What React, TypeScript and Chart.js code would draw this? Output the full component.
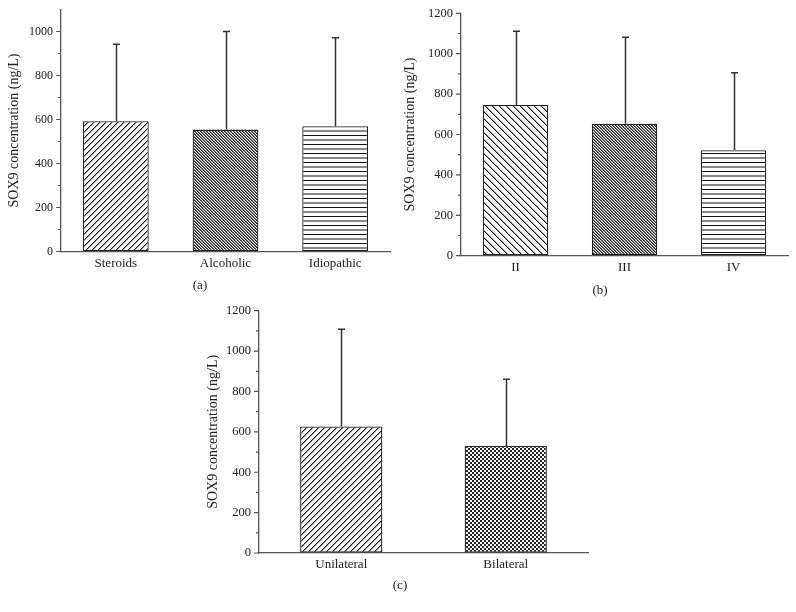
import React, { useEffect, useRef } from 'react';
import { Chart, registerables } from 'chart.js';
Chart.register(...registerables);

// ---------- data ----------
const categoriesA = ['Steroids', 'Alcoholic', 'Idiopathic'];
const meansA = [592, 554, 569];
const upperA = [942, 1000, 972];
const ticksA = [0, 200, 400, 600, 800, 1000];

const categoriesB = ['II', 'III', 'IV'];
const meansB = [746, 653, 522];
const upperB = [1111, 1081, 906];
const ticksB = [0, 200, 400, 600, 800, 1000, 1200];

const categoriesC = ['Unilateral', 'Bilateral'];
const meansC = [627, 530];
const upperC = [1108, 860];
const ticksC = [0, 200, 400, 600, 800, 1000, 1200];

const yTitle = 'SOX9 concentration (ng/L)';

const FONT = '"Liberation Serif", "Times New Roman", serif';
const AXIS = '#555';
const TEXT = '#222';

// ---------- patterns ----------
function makePattern(kind: string): CanvasPattern | string {
  const c = document.createElement('canvas');
  let w = 6, h = 6;
  if (kind === 'slash') { w = 6; h = 6; }
  if (kind === 'back') { w = 7; h = 7; }
  if (kind === 'dense') { w = 3; h = 3; }
  if (kind === 'horiz') { w = 4; h = 9; }
  if (kind === 'check') { w = 4; h = 4; }
  c.width = w; c.height = h;
  const g = c.getContext('2d')!;
  g.fillStyle = '#fff';
  g.fillRect(0, 0, w, h);
  const px = (x: number, y: number, col: string) => { g.fillStyle = col; g.fillRect(((x % w) + w) % w, ((y % h) + h) % h, 1, 1); };
  if (kind === 'slash') {
    for (let y = 0; y < h; y++) { px(w - 1 - y, y, '#111'); px(w - y, y, '#9a9a9a'); }
  } else if (kind === 'back') {
    for (let y = 0; y < h; y++) { px(y, y, '#111'); px(y + 1, y, '#9a9a9a'); }
  } else if (kind === 'dense') {
    for (let y = 0; y < h; y++) { px(y, y, '#222'); px(y + 1, y, '#777'); }
  } else if (kind === 'horiz') {
    for (let x = 0; x < w; x++) { px(x, 0, '#111'); px(x, 4, '#888'); px(x, 5, '#888'); }
  } else if (kind === 'check') {
    g.fillStyle = '#222';
    g.fillRect(0, 0, 2, 2);
    g.fillRect(2, 2, 2, 2);
  }
  return g.createPattern(c, 'repeat') || '#888';
}

// ---------- plugins ----------
function errorBarPlugin(upper: number[]) {
  return {
    id: 'errorBars',
    afterDatasetsDraw(chart: any) {
      const ctx = chart.ctx;
      const meta = chart.getDatasetMeta(0);
      const ys = chart.scales.y;
      ctx.save();
      ctx.strokeStyle = '#333';
      ctx.lineWidth = 1.5;
      meta.data.forEach((el: any, i: number) => {
        const x = Math.round(el.x) + 0.5;
        const y1 = ys.getPixelForValue(upper[i]);
        ctx.beginPath();
        ctx.moveTo(x, el.y);
        ctx.lineTo(x, y1);
        ctx.moveTo(x - 3.5, y1);
        ctx.lineTo(x + 3.5, y1);
        ctx.stroke();
      });
      ctx.restore();
    },
  };
}

const yTickMarks = {
  id: 'yTickMarks',
  afterDraw(chart: any) {
    const ctx = chart.ctx;
    const ys = chart.scales.y;
    const x0 = chart.chartArea.left;
    const vals = ys.ticks.map((t: any) => t.value);
    ctx.save();
    ctx.strokeStyle = AXIS;
    ctx.lineWidth = 1.2;
    ctx.beginPath();
    vals.forEach((v: number, i: number) => {
      const y = ys.getPixelForValue(v);
      ctx.moveTo(x0 - 5, y);
      ctx.lineTo(x0, y);
      if (i < vals.length - 1) {
        const ym = ys.getPixelForValue((v + vals[i + 1]) / 2);
        ctx.moveTo(x0 - 3, ym);
        ctx.lineTo(x0, ym);
      }
    });
    ctx.stroke();
    ctx.restore();
  },
};

type PanelProps = {
  left: number; top: number; width: number; height: number;
  cats: string[]; means: number[]; upper: number[]; ticks: number[];
  max: number; kinds: string[]; barPct: number; tickSize: number;
  pad: { left: number; right: number; top: number; bottom: number };
  yW: number; xH: number; titlePad: number;
  caption: string; capX: number; capY: number;
};

function Panel(p: PanelProps) {
  const ref = useRef<HTMLCanvasElement>(null);
  useEffect(() => {
    const canvas = ref.current!;
    const patterns = p.kinds.map(makePattern);
    const chart = new Chart(canvas, {
      type: 'bar',
      data: {
        labels: p.cats,
        datasets: [{
          data: p.means,
          backgroundColor: patterns as any,
          borderColor: '#222',
          borderWidth: 1.3,
          borderSkipped: false,
          barPercentage: p.barPct,
          categoryPercentage: 1,
        }],
      },
      options: {
        animation: false,
        responsive: false,
        devicePixelRatio: 1,
        layout: { padding: p.pad },
        plugins: { legend: { display: false }, tooltip: { enabled: false }, title: { display: false } },
        scales: {
          x: {
            grid: { display: true, drawOnChartArea: false, drawTicks: false },
            border: { display: true, color: AXIS, width: 1.3 },
            ticks: { color: TEXT, font: { family: FONT, size: 13 }, padding: 4, maxRotation: 0 },
            afterFit: (s: any) => { s.height = p.xH; s.paddingLeft = 0; s.paddingRight = 0; },
          },
          y: {
            min: 0,
            max: p.max,
            grid: { display: true, drawOnChartArea: false, drawTicks: false },
            border: { display: true, color: AXIS, width: 1.3 },
            ticks: { color: TEXT, font: { family: FONT, size: p.tickSize }, padding: 8, callback: (v: any) => String(v) },
            afterBuildTicks: (s: any) => { s.ticks = p.ticks.map((v) => ({ value: v })); },
            afterFit: (s: any) => { s.width = p.yW; s.paddingTop = 0; s.paddingBottom = 0; },
            title: { display: true, text: yTitle, color: TEXT, font: { family: FONT, size: 14 }, padding: { top: p.titlePad, bottom: 0 } },
          },
        },
      },
      plugins: [errorBarPlugin(p.upper), yTickMarks],
    });
    return () => chart.destroy();
  }, []);
  return (
    <>
      <canvas ref={ref} width={p.width} height={p.height}
        style={{ position: 'absolute', left: p.left, top: p.top, width: p.width, height: p.height }} />
      <div style={{ position: 'absolute', left: p.capX, top: p.capY, transform: 'translate(-50%, -50%)', font: `13px ${FONT}`, color: TEXT }}>{p.caption}</div>
    </>
  );
}

export default function App() {
  return (
    <div style={{ position: 'fixed', left: 0, top: 0, width: 796, height: 612, background: '#fff', overflow: 'hidden' }}>
      <Panel left={0} top={0} width={400} height={300}
        cats={categoriesA} means={meansA} upper={upperA} ticks={ticksA} max={1100}
        kinds={['slash', 'dense', 'horiz']} barPct={0.6} tickSize={12}
        pad={{ left: 0, right: 10, top: 9.5, bottom: 18.5 }} yW={61} xH={30} titlePad={5.6}
        caption="(a)" capX={200} capY={285} />
      <Panel left={400} top={0} width={396} height={300}
        cats={categoriesB} means={meansB} upper={upperB} ticks={ticksB} max={1200}
        kinds={['back', 'dense', 'horiz']} barPct={0.6} tickSize={12.5}
        pad={{ left: 0, right: 8, top: 13.3, bottom: 14.3 }} yW={61} xH={30} titlePad={1.6}
        caption="(b)" capX={600} capY={290} />
      <Panel left={200} top={300} width={400} height={312}
        cats={categoriesC} means={meansC} upper={upperC} ticks={ticksC} max={1200}
        kinds={['slash', 'check']} barPct={0.5} tickSize={12.5}
        pad={{ left: 0, right: 12, top: 10.7, bottom: 29 }} yW={59} xH={30} titlePad={4.6}
        caption="(c)" capX={400} capY={585} />
    </div>
  );
}
